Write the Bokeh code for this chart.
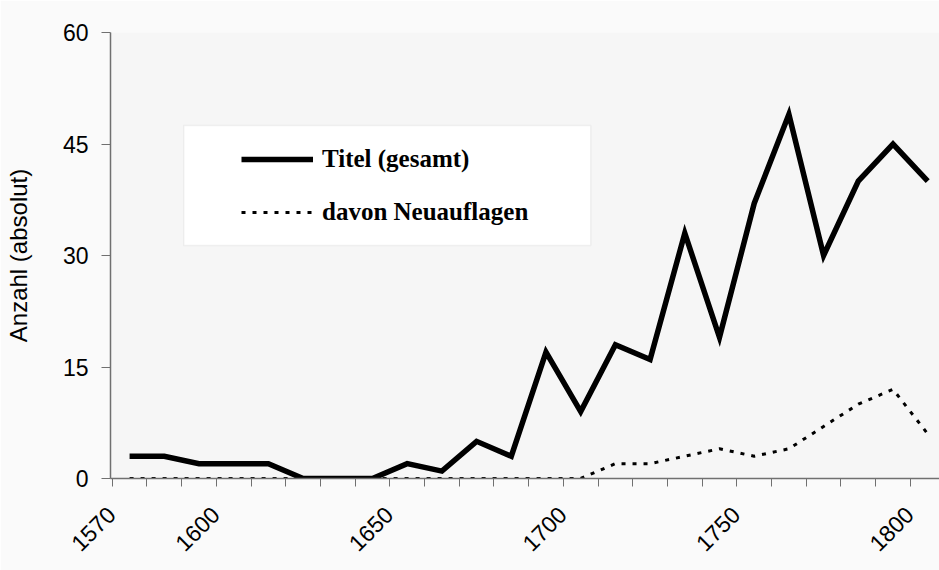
import math
from bokeh.plotting import figure
from bokeh.models import (Range1d, FixedTicker, Legend, LegendItem, BoxAnnotation)
from bokeh.embed import file_html
from bokeh.resources import INLINE

years = [1570, 1580, 1590, 1600, 1610, 1620, 1630, 1640, 1650, 1660, 1670, 1680,
         1690, 1700, 1710, 1720, 1730, 1740, 1750, 1760, 1770, 1780, 1790, 1800]
titel_gesamt = [3, 3, 2, 2, 2, 0, 0, 0, 2, 1, 5, 3,
                17, 9, 18, 16, 33, 19, 37, 49, 30, 40, 45, 40]
neuauflagen = [0, 0, 0, 0, 0, 0, 0, 0, 0, 0, 0, 0,
               0, 0, 2, 2, 3, 4, 3, 4, 7, 10, 12, 6]
label_years = [1570, 1600, 1650, 1700, 1750, 1800]
y_ticks = [0, 15, 30, 45, 60]

# labels in the original sit a little left of their category centre
label_shift = 5.3
label_pos = [y - label_shift for y in label_years]

p = figure(width=939, height=570, output_backend="svg", toolbar_location=None,
           x_range=Range1d(1564.5, 1803.4), y_range=Range1d(0, 60),
           min_border_left=110, min_border_right=0, min_border_top=32,
           min_border_bottom=92)
p.background_fill_color = "#f6f6f6"
p.border_fill_color = "#fafafa"
p.outline_line_color = None
p.grid.visible = False

# legend frame
p.add_layout(BoxAnnotation(left=1585.6, right=1702.9, bottom=31.35, top=47.5,
                           fill_color="white", fill_alpha=1.0,
                           line_color="#d4d4d4", line_width=1.5))

r1 = p.line(years, titel_gesamt, line_color="black", line_width=5.5, line_join="miter")
r2 = p.line(years, neuauflagen, line_color="black", line_width=3, line_dash="4 7")

xa = p.xaxis[0]
xa.ticker = FixedTicker(ticks=label_pos,
                        minor_ticks=[1565 + 10 * i for i in range(25)])
xa.major_label_overrides = {lp: str(ly) for lp, ly in zip(label_pos, label_years)}
xa.major_tick_out = 0
xa.major_tick_in = 0
xa.minor_tick_out = 8
xa.minor_tick_in = 0
xa.minor_tick_line_color = "#707070"
xa.axis_line_color = "#707070"
xa.axis_line_width = 1.5
xa.major_label_orientation = math.pi / 4
xa.major_label_text_font = "Liberation Sans"
xa.major_label_text_font_size = "23px"
xa.major_label_text_color = "black"
xa.major_label_standoff = 24

ya = p.yaxis[0]
ya.ticker = FixedTicker(ticks=y_ticks)
ya.minor_tick_line_color = None
ya.major_tick_out = 9
ya.major_tick_in = 0
ya.major_tick_line_color = "#707070"
ya.axis_line_color = "#707070"
ya.axis_line_width = 1.5
ya.major_label_text_font = "Liberation Sans"
ya.major_label_text_font_size = "23px"
ya.major_label_text_color = "black"
ya.major_label_standoff = 13
ya.axis_label = "Anzahl (absolut)"
ya.axis_label_text_font = "Liberation Sans"
ya.axis_label_text_font_style = "normal"
ya.axis_label_text_font_size = "24px"
ya.axis_label_text_color = "black"
ya.axis_label_standoff = 28

legend = Legend(items=[LegendItem(label="Titel (gesamt)", renderers=[r1]),
                       LegendItem(label="davon Neuauflagen", renderers=[r2])],
                location=(131, 251), orientation="vertical")
legend.border_line_color = None
legend.background_fill_alpha = 0
legend.padding = 0
legend.margin = 0
legend.spacing = 23
legend.glyph_width = 72
legend.glyph_height = 30
legend.label_height = 30
legend.label_standoff = 9
legend.label_text_font = "Liberation Serif"
legend.label_text_font_style = "bold"
legend.label_text_font_size = "25px"
legend.label_text_color = "black"
p.add_layout(legend, "center")

open("out.html", "w").write(file_html(p, INLINE))
